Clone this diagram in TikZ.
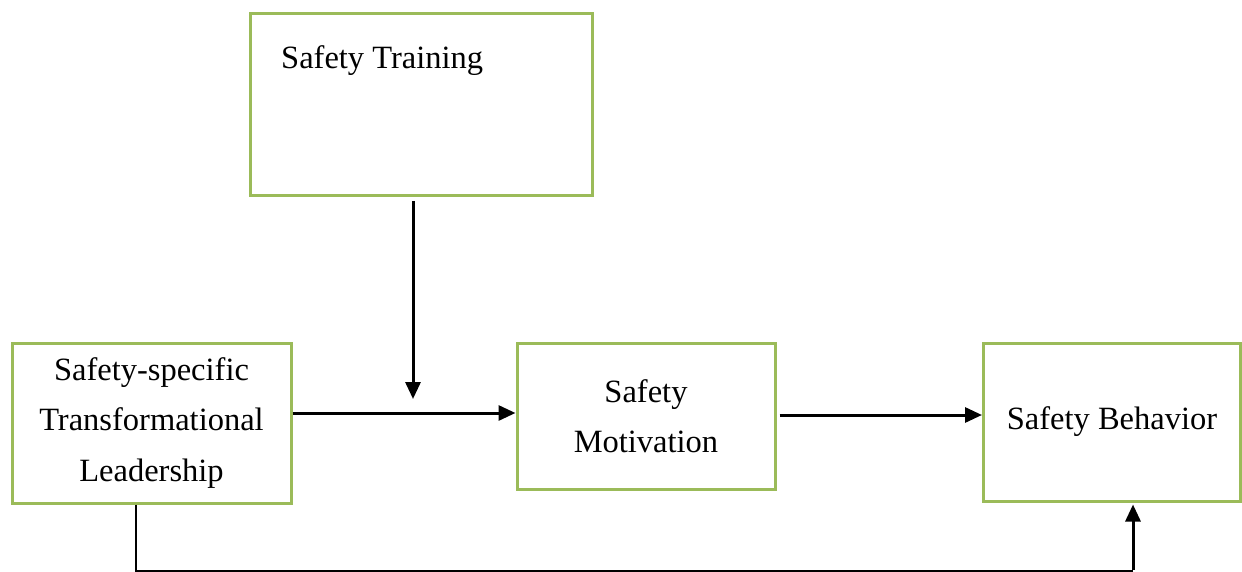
\documentclass[tikz,border=0pt]{standalone}
\usepackage{fontspec}
\setmainfont{Liberation Serif}
\usetikzlibrary{arrows.meta}
\definecolor{boxgreen}{HTML}{9BBB59}
\begin{document}
\begin{tikzpicture}[x=1pt,y=-1pt,
  box/.style={draw=boxgreen,line width=3pt,rectangle,inner sep=0pt,anchor=north west,
    font=\fontsize{32.5}{50.5}\selectfont,align=center},
  conn/.style={line width=3pt,-{Triangle[length=17pt,width=15pt]}},
  plain/.style={line width=2.4pt}]
\useasboundingbox (0,0) rectangle (1242,572);
\node[box,minimum width=342pt,minimum height=182pt] (train) at (248.5,12) {};
\node[anchor=base west,font=\fontsize{32.5}{50}\selectfont,inner sep=0pt] (trainlabel) at (281,69) {Safety Training};
\node[box,minimum width=279pt,minimum height=160pt] (lead) at (10.5,341.5) {Safety-specific\\Transformational\\Leadership};
\node[box,minimum width=258pt,minimum height=146pt] (mot) at (515.5,341.5) {Safety\\Motivation};
\node[box,minimum width=257pt,minimum height=158pt] (beh) at (982,341.5) {Safety Behavior};
\coordinate (tend) at (413,399);
\coordinate (bl) at (136,571);
\coordinate (br) at (1133,571);
\draw[conn] ([yshift=-4pt]train.south -| tend) -- (tend);
\draw[conn] (lead.east |- 0,413) -- (mot.west |- 0,413);
\draw[conn] ([xshift=3pt]mot.east |- 0,415) -- (beh.west |- 0,415);
\draw[plain] (lead.south -| bl) -- (bl) -- (br);
\draw[conn] ([yshift=1pt]br) -- ([yshift=-2pt]beh.south -| br);
\end{tikzpicture}
\end{document}
